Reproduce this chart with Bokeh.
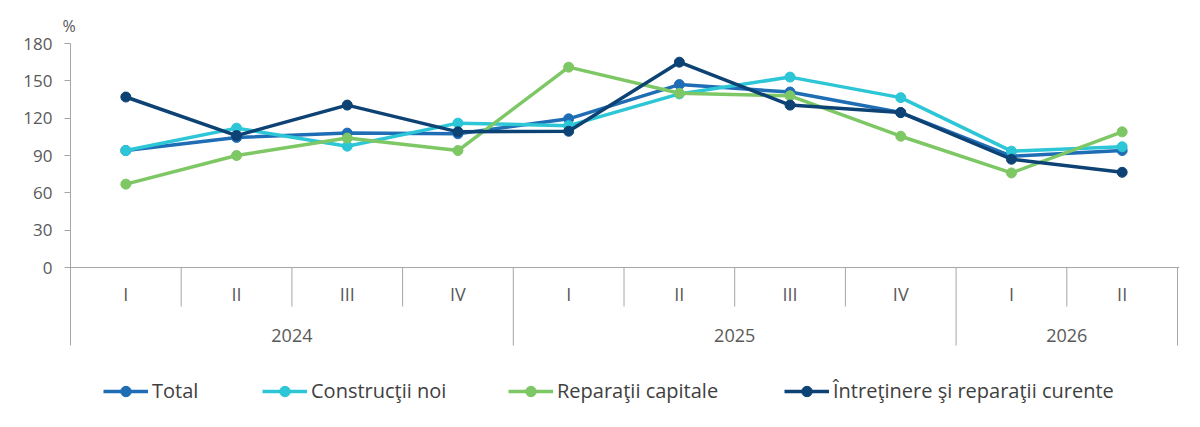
from bokeh.plotting import figure
from bokeh.models import Range1d, FixedTicker, Span, Legend, LegendItem, ColumnDataSource
from bokeh.core.properties import value
from bokeh.embed import file_html
from bokeh.resources import INLINE

# ---- data ----
years = ["2024", "2025", "2026"]
quarters_per_year = [4, 4, 2]
quarters = ["I", "II", "III", "IV", "I", "II", "III", "IV", "I", "II"]
total = [94, 104.5, 108, 107.5, 119.5, 147, 141, 124.5, 89.5, 94]
constructii = [94, 112, 97.5, 116, 114, 139.5, 153, 136.5, 93.5, 97]
reparatii = [67, 90, 104, 94, 161, 140, 138, 105.5, 76, 109]
intretinere = [137, 106, 130.5, 109, 109.5, 165, 130.5, 124.5, 87, 76.5]
y_ticks = [0, 30, 60, 90, 120, 150, 180]

series = [
    ("Total", total, "#1f6db5"),
    ("Construcţii noi", constructii, "#2cc6d6"),
    ("Reparaţii capitale", reparatii, "#7ec765"),
    ("Întreţinere şi reparaţii curente", intretinere, "#0d4274"),
]

FONT = "Open Sans"
TXT = "#595959"
GRID = "#a6a6a6"

n = len(quarters)
xs = [i + 0.5 for i in range(n)]

Y_TOP = 180
Y_BOT = -122.1
ROW1 = -31.3   # bottom of quarter row
ROW2 = -62.7   # bottom of year row

p = figure(
    frame_width=1109, frame_height=376,
    x_range=Range1d(0, n * 1109 / 1107), y_range=Range1d(Y_BOT, Y_TOP),
    x_axis_location=None, output_backend="svg", toolbar_location=None,
    min_border_left=70, min_border_right=13, min_border_top=43, min_border_bottom=0,
    title="%",
)
p.title.align = "left"
p.title.offset = -8
p.title.standoff = 14
p.title.text_font = FONT
p.title.text_font_size = "16px"
p.title.text_font_style = "normal"
p.title.text_color = TXT

p.outline_line_color = None
p.xgrid.visible = False
p.ygrid.visible = False

ax = p.yaxis[0]
ax.ticker = FixedTicker(ticks=y_ticks)
ax.bounds = (ROW2, 180)
ax.axis_line_color = GRID
ax.major_tick_line_color = GRID
ax.major_tick_out = 6
ax.major_tick_in = 0
ax.minor_tick_line_color = None
ax.major_label_standoff = 12
ax.major_label_text_font = FONT
ax.major_label_text_font_size = "17px"
ax.major_label_text_color = TXT

# baseline
p.add_layout(Span(location=0, dimension="width", line_color=GRID, line_width=1))

# separators
year_bounds = [0]
for c in quarters_per_year:
    year_bounds.append(year_bounds[-1] + c)
sep_x, sep_y1 = [], []
for b in range(1, n + 1):
    sep_x.append(b)
    sep_y1.append(ROW2 if b in year_bounds else ROW1)
p.segment(x0=sep_x, y0=[0] * len(sep_x), x1=sep_x, y1=sep_y1, line_color=GRID, line_width=1)

# quarter labels
p.text(x=xs, y=[-21] * n, text=quarters, text_align="center", text_baseline="middle",
       text_font=value(FONT), text_font_size="18px", text_color=TXT)
# year labels
yx = [(year_bounds[i] + year_bounds[i + 1]) / 2 for i in range(len(years))]
p.text(x=yx, y=[-54.5] * len(years), text=years, text_align="center", text_baseline="middle",
       text_font=value(FONT), text_font_size="18px", text_color=TXT)

legend_x = [33, 192, 438, 714]
for (name, vals, col), lx in zip(series, legend_x):
    src = ColumnDataSource(dict(x=xs, y=vals))
    lr = p.line("x", "y", source=src, line_color=col, line_width=3.5)
    sr = p.scatter("x", "y", source=src, size=10, fill_color=col, line_color=col)
    lg = Legend(items=[LegendItem(label=name, renderers=[lr, sr])], location=(lx, 15),
                orientation="horizontal", glyph_width=45, glyph_height=26, label_height=26,
                label_standoff=4, padding=0, margin=0, border_line_color=None,
                background_fill_alpha=0, label_text_font=FONT, label_text_font_size="20px",
                label_text_color="#404040")
    p.add_layout(lg, "center")

open("out.html", "w").write(file_html(p, INLINE))
